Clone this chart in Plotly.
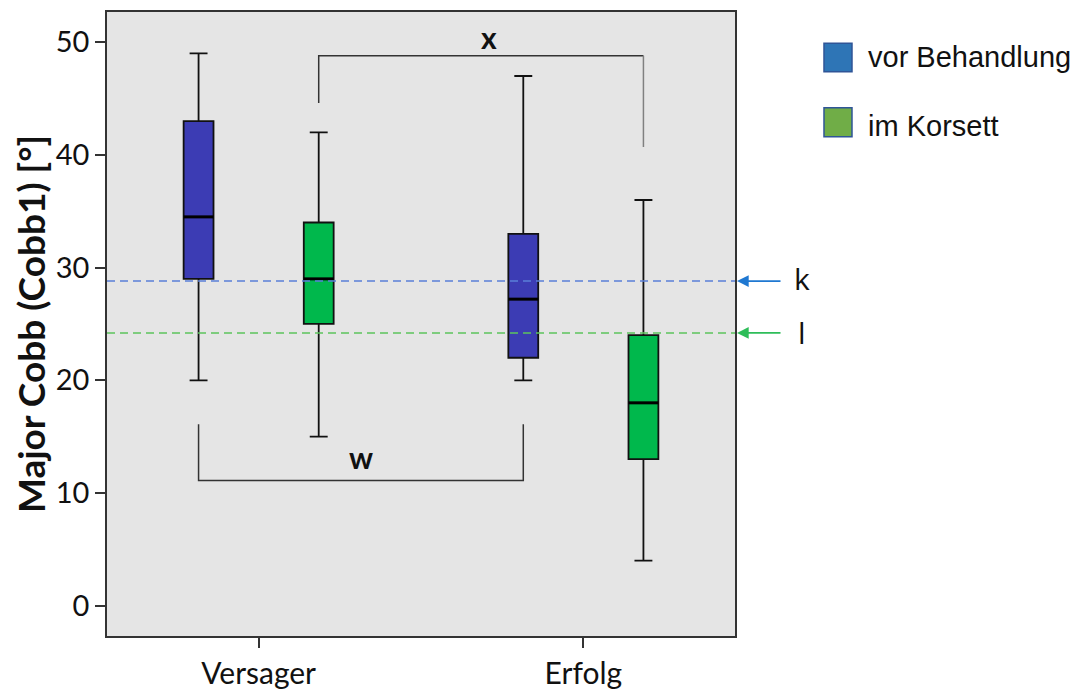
import plotly.graph_objects as go

# ---------------- data ----------------
categories = ["Versager", "Erfolg"]
cat_pos = [0, 1]

# vor Behandlung (blue)
vor_lower = [20, 20]
vor_q1 = [29, 22]
vor_median = [34.5, 27.2]
vor_q3 = [43, 33]
vor_upper = [49, 47]

# im Korsett (green)
kor_lower = [15, 4]
kor_q1 = [25, 13]
kor_median = [29, 18]
kor_q3 = [34, 24]
kor_upper = [42, 36]

ref_k = 28.8
ref_l = 24.2

y_ticks = [0, 10, 20, 30, 40, 50]

# ---------------- styling ----------------
offset = 0.185
box_w = 0.092
blue_fill = "#3c3cb4"
green_fill = "#00b84c"
font_main = "Lato"

fig = go.Figure()

fig.add_trace(go.Box(
    x=[p - offset for p in cat_pos],
    q1=vor_q1, median=vor_median, q3=vor_q3,
    lowerfence=vor_lower, upperfence=vor_upper,
    fillcolor=blue_fill, line=dict(color="#111111", width=1.8),
    width=box_w, whiskerwidth=0.6, boxpoints=False, showlegend=False,
    name="vor Behandlung",
))
fig.add_trace(go.Box(
    x=[p + offset for p in cat_pos],
    q1=kor_q1, median=kor_median, q3=kor_q3,
    lowerfence=kor_lower, upperfence=kor_upper,
    fillcolor=green_fill, line=dict(color="#111111", width=1.8),
    width=box_w, whiskerwidth=0.6, boxpoints=False, showlegend=False,
    name="im Korsett",
))

# thicker median bars
def median_segments(positions, medians):
    xs, ys = [], []
    for p, m in zip(positions, medians):
        xs += [p - box_w / 2, p + box_w / 2, None]
        ys += [m, m, None]
    return xs, ys

mx, my = median_segments([p - offset for p in cat_pos] + [p + offset for p in cat_pos],
                         vor_median + kor_median)
fig.add_trace(go.Scatter(x=mx, y=my, mode="lines", line=dict(color="#000000", width=3),
                         showlegend=False, hoverinfo="skip"))

shapes = []
# dashed reference lines
shapes.append(dict(type="line", xref="paper", x0=0, x1=1, yref="y", y0=ref_k, y1=ref_k,
                   line=dict(color="#5a7fd8", width=1.5, dash="8px,5px"), layer="above"))
shapes.append(dict(type="line", xref="paper", x0=0, x1=1, yref="y", y0=ref_l, y1=ref_l,
                   line=dict(color="#5cc45c", width=1.5, dash="8px,5px"), layer="above"))

# bracket w (between blue boxes)
wx0 = cat_pos[0] - offset
wx1 = cat_pos[1] - offset
shapes.append(dict(type="path", xref="x", yref="y",
                   path=f"M {wx0},16.1 L {wx0},11.1 L {wx1},11.1 L {wx1},16.1",
                   line=dict(color="#333333", width=1.5)))
# bracket x (between green boxes)
xx0 = cat_pos[0] + offset
xx1 = cat_pos[1] + offset
shapes.append(dict(type="path", xref="x", yref="y",
                   path=f"M {xx0},44.6 L {xx0},48.8 L {xx1},48.8",
                   line=dict(color="#333333", width=1.5)))
shapes.append(dict(type="line", xref="x", yref="y", x0=xx1, x1=xx1, y0=48.8, y1=40.7,
                   line=dict(color="#808080", width=1.5)))

# legend squares (paper coords)
shapes.append(dict(type="rect", xref="paper", yref="paper", x0=1.1417, x1=1.1863, y0=0.9043, y1=0.9498,
                   fillcolor="#2e75b6", line=dict(color="#2f5597", width=1.5)))
shapes.append(dict(type="rect", xref="paper", yref="paper", x0=1.1417, x1=1.1863, y0=0.8002, y1=0.8466,
                   fillcolor="#70ad47", line=dict(color="#2f5597", width=1.5)))

annotations = []
annotations.append(dict(text="w", x=(wx0 + wx1) / 2, y=13.2, xref="x", yref="y", showarrow=False,
                        font=dict(family=font_main, size=30, color="#111111", weight="bold")))
annotations.append(dict(text="x", x=0.71, y=50.5, xref="x", yref="y", showarrow=False,
                        font=dict(family=font_main, size=30, color="#111111", weight="bold")))
# arrows k / l
annotations.append(dict(text="", x=1.0032, xref="paper", y=ref_k, yref="y", showarrow=True,
                        ax=45, ay=0, arrowhead=2, arrowsize=1.3, arrowwidth=1.8, arrowcolor="#1f78d1"))
annotations.append(dict(text="", x=1.0032, xref="paper", y=ref_l, yref="y", showarrow=True,
                        ax=45, ay=0, arrowhead=2, arrowsize=1.3, arrowwidth=1.8, arrowcolor="#2ebd59"))
annotations.append(dict(text="k", x=(802 - 107) / 628, xref="paper", xanchor="center",
                        y=ref_k + 0.2, yref="y", showarrow=False,
                        font=dict(family="Open Sans", size=30, color="#111111")))
annotations.append(dict(text="l", x=(802 - 107) / 628, xref="paper", xanchor="center",
                        y=ref_l, yref="y", showarrow=False,
                        font=dict(family="Open Sans", size=30, color="#111111")))
# legend text
annotations.append(dict(text="vor Behandlung", x=1.2086, xref="paper", y=0.928, yref="paper",
                        xanchor="left", yanchor="middle", showarrow=False,
                        font=dict(family="Liberation Sans", size=29, color="#111111")))
annotations.append(dict(text="im Korsett", x=1.2086, xref="paper", y=0.8173, yref="paper",
                        xanchor="left", yanchor="middle", showarrow=False,
                        font=dict(family="Liberation Sans", size=29, color="#111111")))

fig.update_layout(
    width=1084, height=692,
    margin=dict(l=99, r=357, t=4, b=64),
    paper_bgcolor="white", plot_bgcolor="#e5e5e5",
    boxmode="overlay",
    shapes=shapes, annotations=annotations,
    font=dict(family=font_main, color="#111111"),
)
fig.update_xaxes(
    range=[-0.467, 1.467], tickvals=cat_pos, ticktext=categories,
    ticks="outside", ticklen=10, tickwidth=1.5, tickcolor="#333333",
    showline=True, mirror=True, linecolor="#333333", linewidth=1.5,
    showgrid=False, zeroline=False, automargin=False, ticklabelstandoff=0,
    tickfont=dict(family=font_main, size=30, color="#111111"),
)
fig.update_yaxes(
    range=[-2.69, 52.68], tickvals=y_ticks,
    ticks="outside", ticklen=10, tickwidth=1.5, tickcolor="#333333",
    showline=True, mirror=True, linecolor="#333333", linewidth=1.5,
    showgrid=False, zeroline=False, automargin=False,
    tickfont=dict(family=font_main, size=29, color="#111111"),
    title=dict(text="Major Cobb (Cobb1) [°]", standoff=4,
               font=dict(family=font_main, size=37, color="#111111", weight="bold")),
)

fig.write_html("out.html")
